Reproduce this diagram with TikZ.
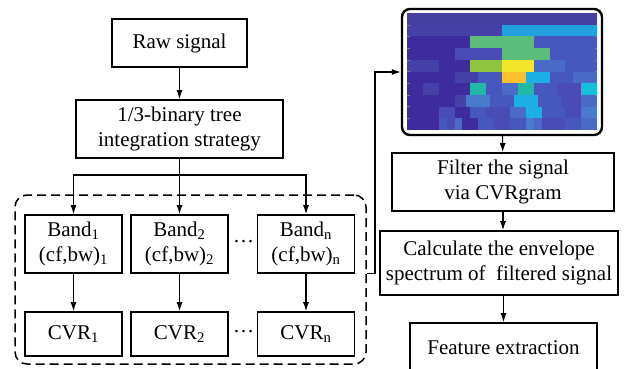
\documentclass[tikz,border=0pt]{standalone}
\usepackage{fontspec}
\setmainfont{Liberation Serif}
\usetikzlibrary{arrows.meta}
% colours of the CVRgram
\definecolor{ctop}{HTML}{45409F}
\definecolor{c0}{HTML}{3E2C9E}
\definecolor{c1}{HTML}{4440A8}
\definecolor{c2}{HTML}{4A4CB5}
\definecolor{c3}{HTML}{4658BE}
\definecolor{c4}{HTML}{4A6AC8}
\definecolor{c5}{HTML}{4A7ACC}
\definecolor{clb}{HTML}{22A0E0}
\definecolor{cg}{HTML}{5CBC7C}
\definecolor{cyg}{HTML}{8EC440}
\definecolor{cy}{HTML}{F2E52A}
\definecolor{co}{HTML}{FBC02E}
\definecolor{csky}{HTML}{1DAFE5}
\definecolor{cteal}{HTML}{22B8A8}
\definecolor{ccy}{HTML}{15C0D8}
\newcommand{\hdots}{\raisebox{6pt}{\char"2026}}
\begin{document}
\begin{tikzpicture}[x=1pt,y=-1pt,
  box/.style={draw,line width=1.6pt,align=center,inner sep=0pt,font=\fontsize{21}{25}\selectfont},
  bandbox/.style={box,minimum width=97pt,minimum height=58pt},
  cvrbox/.style={box,minimum width=97pt,minimum height=44pt},
  dashbox/.style={draw,line width=1.5pt,dash pattern=on 9pt off 5pt,rounded corners=12pt},
  arr/.style={-{Latex[length=9pt,width=6pt]},line width=1.2pt}]
\useasboundingbox (0,0) rectangle (624,368);
% left column
\node[box,minimum width=135pt,minimum height=48pt] (raw) at (179.5,43) {Raw signal};
\node[box,minimum width=207pt,minimum height=58pt] (tree) at (179.5,129) {1/3-binary tree\\integration strategy};
\coordinate (split) at (179.5,175);
\node[bandbox] (band1) at (73.5,244) {Band\textsubscript{1}\\(cf,bw)\textsubscript{1}};
\node[bandbox] (band2) at (179.5,244) {Band\textsubscript{2}\\(cf,bw)\textsubscript{2}};
\node[bandbox] (bandn) at (306,244) {Band\textsubscript{n}\\(cf,bw)\textsubscript{n}};
\node[font=\fontsize{21}{25}\selectfont] (dots1) at (243.5,244) {\hdots};
\node[cvrbox] (cvr1) at (73.5,334) {CVR\textsubscript{1}};
\node[cvrbox] (cvr2) at (179.5,334) {CVR\textsubscript{2}};
\node[cvrbox] (cvrn) at (306,334) {CVR\textsubscript{n}};
\node[font=\fontsize{21}{25}\selectfont] (dots2) at (243.5,334) {\hdots};
\node[dashbox,minimum width=351pt,minimum height=169pt] (group) at (190.5,279.5) {};
\draw[arr] (raw) -- (tree);
\draw[line width=1.2pt] (tree) -- (split);
\draw[arr] (split) -| (band1.north);
\draw[arr] (split) -- (band2.north);
\draw[arr] (split) -| (bandn.north);
\draw[arr] (band1) -- (cvr1);
\draw[arr] (band2) -- (cvr2);
\draw[arr] (bandn) -- (cvrn);
% right column
\node[draw,line width=2.4pt,rounded corners=8pt,minimum width=200pt,minimum height=126pt] (map) at (502,72) {};
\foreach \r/\cells in {
  0/{0/24/ctop},
  1/{0/12/c1,12/24/clb},
  2/{0/8/c0,8/16/cg,16/24/c3},
  3/{0/6/c0,6/12/c2,12/18/cg,18/24/c3},
  4/{0/4/c1,4/8/c0,8/12/cyg,12/16/cy,16/20/c4,20/24/c3},
  5/{0/6/c0,6/9/c1,9/12/c3,12/15/co,15/18/csky,18/21/c3,21/24/c4},
  6/{0/2/c0,2/4/c1,4/8/c0,8/10/cteal,10/12/c3,12/14/c4,14/16/cteal,16/19/c3,19/22/c2,22/24/ccy},
  7/{0/6/c0,6/7.5/c1,7.5/10.5/c5,10.5/13.5/c3,13.5/16.5/csky,16.5/19.5/c3,19.5/22/c2,22/24/c4},
  8/{0/4/c0,4/6/c2,6/8/c0,8/10/c3,10/13/c2,13/15/c4,15/17/csky,17/20/c3,20/22/c2,22/24/c5},
  9/{0/4/c0,4/5/c3,5/6/c2,6/7/c4,7/9/c0,9/11/c3,11/13/c2,13/15/c3,15/16/c5,16/17/c4,17/20/c2,20/22/c3,22/24/c4}}
  \foreach \a/\b/\c in \cells
    \fill[\c] ({407+\a*7.917},{13+\r*11.7}) rectangle ({407+\b*7.917},{13+(\r+1)*11.7});
\foreach \k in {1,...,9} {
  \draw[gray,line width=0.4pt] (407,{13+\k*11.7}) -- ++(2.5,0);
  \draw[gray,line width=0.4pt] (597,{13+\k*11.7}) -- ++(-2.5,0);
}
\node[box,minimum width=222pt,minimum height=58pt] (filter) at (503,182) {Filter the signal\\via CVRgram};
\node[box,minimum width=238pt,minimum height=64pt] (calc) at (499,263) {Calculate the envelope\\spectrum of\ \ filtered signal};
\node[box,minimum width=187pt,minimum height=50pt] (feat) at (503.5,348) {Feature extraction};
\draw[arr] (map) -- (filter);
\draw[arr] (filter.south) -- (filter.south |- calc.north);
\draw[arr] (calc.south -| feat.north) -- (feat.north);
% feedback
\coordinate (bend) at (375,72);
\draw[arr] (group.east |- bandn.south) -| (bend) -- (map.west |- bend);
\end{tikzpicture}
\end{document}
